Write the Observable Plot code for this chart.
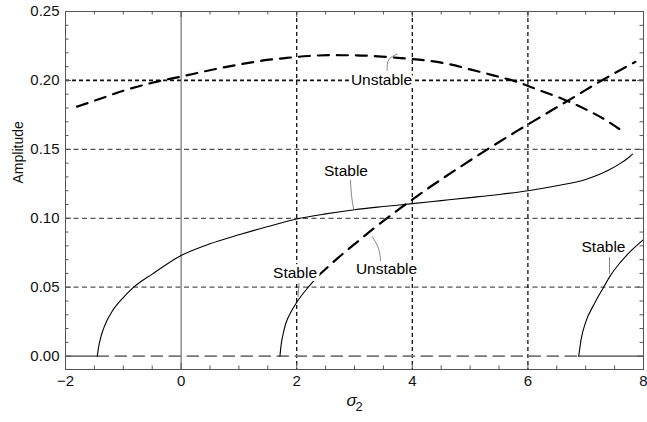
<!DOCTYPE html>
<html><head><meta charset="utf-8">
<script src="https://cdn.jsdelivr.net/npm/d3@7"></script>
<script src="https://cdn.jsdelivr.net/npm/@observablehq/plot@0.6"></script>
<style>body{margin:0;background:#fff} #chart svg{display:block}</style>
</head><body><div id="chart"></div>
<script>
// ---- data (sigma2 vs amplitude) ----
const stableMainX = [-1.45, -1.43, -1.4, -1.35, -1.28, -1.2, -1.0, -0.82, -0.5, 0, 0.5, 1.0, 1.5, 2.0, 2.5, 3.0, 3.5, 4.0, 4.5, 5.0, 5.5, 6.0, 6.5, 7.0, 7.2, 7.4, 7.6, 7.75, 7.81];
const stableMainY = [0, 0.006, 0.012, 0.019, 0.026, 0.032, 0.0425, 0.050, 0.0595, 0.073, 0.0815, 0.088, 0.094, 0.0995, 0.1032, 0.1062, 0.1085, 0.1106, 0.1128, 0.115, 0.1173, 0.120, 0.1236, 0.1282, 0.1312, 0.135, 0.1398, 0.1443, 0.1465];

const unstableUpperX = [-1.8, -1.4, -1.0, -0.5, 0, 0.6, 1.0, 1.4, 1.8, 2.2, 2.6, 3.0, 3.4, 3.8, 4.2, 4.6, 5.0, 5.4, 5.8, 6.2, 6.6, 7.0, 7.3, 7.66];
const unstableUpperY = [0.181, 0.1867, 0.1925, 0.1983, 0.2028, 0.2083, 0.2115, 0.2143, 0.2162, 0.2177, 0.2183, 0.2182, 0.2175, 0.2162, 0.2147, 0.2121, 0.208, 0.2037, 0.1991, 0.1928, 0.1866, 0.179, 0.1724, 0.1625];

const stableMidX = [1.71, 1.73, 1.77, 1.81, 1.9, 2.0, 2.2, 2.38];
const stableMidY = [0, 0.008, 0.017, 0.0235, 0.032, 0.039, 0.050, 0.0586];

const unstableRiseX = [2.38, 2.7, 3.0, 3.33, 3.8, 4.3, 4.8, 5.3, 5.8, 6.3, 6.8, 7.3, 7.86];
const unstableRiseY = [0.0586, 0.0707, 0.0812, 0.0925, 0.1075, 0.1225, 0.1365, 0.150, 0.163, 0.1755, 0.188, 0.2005, 0.2135];

const stableRightX = [6.88, 6.92, 7.0, 7.15, 7.31, 7.43, 7.6, 7.8, 8.0];
const stableRightY = [0, 0.012, 0.0247, 0.038, 0.050, 0.0586, 0.068, 0.077, 0.0845];

// trivial (zero amplitude) branch
const zeroStableLeft = [-2, -1.45];
const zeroUnstable = [-1.45, 6.88];
const zeroStableRight = [6.88, 8];

// annotation labels
const labelText = ["Unstable", "Stable", "Stable", "Unstable", "Stable"];
const labelX = [3.467, 2.853, 1.971, 3.554, 7.308];
const labelY = [0.200, 0.134, 0.060, 0.0629, 0.0789];

// leader lines (label index, x, y)
const leaderId = [0, 0, 0, 1, 1, 1, 2, 2, 3, 3, 3, 4, 4];
const leaderX = [3.566, 3.59, 3.739, 2.931, 2.948, 2.983, 2.040, 2.023, 3.450, 3.415, 3.31, 7.412, 7.412];
const leaderY = [0.2072, 0.2150, 0.2190, 0.1275, 0.1166, 0.1071, 0.0527, 0.0433, 0.0694, 0.0781, 0.0866, 0.0716, 0.060];

// axes / grid
const xMajor = [-2, 0, 2, 4, 6, 8];
const xMinor = [-1.5, -1, -0.5, 0.5, 1, 1.5, 2.5, 3, 3.5, 4.5, 5, 5.5, 6.5, 7, 7.5];
const yMajor = [0, 0.05, 0.10, 0.15, 0.20, 0.25];
const yMinor = [0.01,0.02,0.03,0.04,0.06,0.07,0.08,0.09,0.11,0.12,0.13,0.14,0.16,0.17,0.18,0.19,0.21,0.22,0.23,0.24];
const gridX = [2, 4, 6];
const gridYLight = [0.05, 0.10, 0.15];
const gridYDark = [0.20];

const pts = (xs, ys) => xs.map((x, i) => ({x, y: ys[i]}));
const labels = labelText.map((t, i) => ({text: t, x: labelX[i], y: labelY[i]}));
const leaders = leaderId.map((id, i) => ({id, x: leaderX[i], y: leaderY[i]}));

const W = 647, H = 422, mL = 65, mR = 4, mT = 11, mB = 53;
const fw = W - mL - mR, fh = H - mT - mB;
const tickMaj = 6, tickMin = 3.5;

const chart = Plot.plot({
  width: W, height: H,
  marginLeft: mL, marginRight: mR, marginTop: mT, marginBottom: mB,
  x: {domain: [-2, 8]},
  y: {domain: [-0.0097, 0.25]},
  style: {fontFamily: "'Liberation Sans', Arial, sans-serif", fontSize: "15px", color: "#111", background: "white"},
  marks: [
    Plot.ruleY(gridYLight, {stroke: "#555", strokeWidth: 1.2, strokeDasharray: "5,3.5"}),
    Plot.ruleY(gridYDark, {stroke: "#111", strokeWidth: 1.7, strokeDasharray: "4,3"}),
    Plot.ruleX(gridX, {stroke: "#111", strokeWidth: 1.3, strokeDasharray: "4,3"}),
    Plot.ruleX([0], {stroke: "#555", strokeWidth: 1}),
    Plot.line(pts(zeroUnstable, [0, 0]), {x: "x", y: "y", stroke: "#777", strokeWidth: 1.7, strokeDasharray: "11,7"}),
    Plot.line(pts(zeroStableLeft, [0, 0]), {x: "x", y: "y", stroke: "#444", strokeWidth: 1.2}),
    Plot.line(pts(zeroStableRight, [0, 0]), {x: "x", y: "y", stroke: "#444", strokeWidth: 1.2}),
    Plot.line(pts(unstableUpperX, unstableUpperY), {x: "x", y: "y", stroke: "#000", strokeWidth: 2.2, strokeDasharray: "11,8", curve: "monotone-x"}),
    Plot.line(pts(unstableRiseX, unstableRiseY), {x: "x", y: "y", stroke: "#000", strokeWidth: 2.2, strokeDasharray: "12,8", curve: "monotone-x"}),
    Plot.line(pts(stableMainX, stableMainY), {x: "x", y: "y", stroke: "#000", strokeWidth: 1.1, curve: "monotone-x"}),
    Plot.line(pts(stableMidX, stableMidY), {x: "x", y: "y", stroke: "#000", strokeWidth: 1.1, curve: "monotone-x"}),
    Plot.line(pts(stableRightX, stableRightY), {x: "x", y: "y", stroke: "#000", strokeWidth: 1.1, curve: "monotone-x"}),
    Plot.line(leaders, {x: "x", y: "y", z: "id", stroke: "#888", strokeWidth: 1, curve: "natural"}),
    Plot.text(labels, {x: "x", y: "y", text: "text", fontSize: 15.5, fill: "#000", stroke: "white", strokeWidth: 6}),
    Plot.frame({stroke: "#555", strokeWidth: 1}),
    // inward ticks on all four sides
    Plot.tickX(xMajor, {x: d => d, insetTop: fh - tickMaj, stroke: "#555"}),
    Plot.tickX(xMinor, {x: d => d, insetTop: fh - tickMin, stroke: "#555"}),
    Plot.tickX(xMajor, {x: d => d, insetBottom: fh - tickMaj, stroke: "#555"}),
    Plot.tickX(xMinor, {x: d => d, insetBottom: fh - tickMin, stroke: "#555"}),
    Plot.tickY(yMajor, {y: d => d, insetRight: fw - tickMaj, stroke: "#555"}),
    Plot.tickY(yMinor, {y: d => d, insetRight: fw - tickMin, stroke: "#555"}),
    Plot.tickY(yMajor, {y: d => d, insetLeft: fw - tickMaj, stroke: "#555"}),
    Plot.tickY(yMinor, {y: d => d, insetLeft: fw - tickMin, stroke: "#555"}),
    Plot.axisX(xMajor, {tickSize: 0, tickPadding: 6, tickFormat: d3.format("d"), label: null, fontSize: 15, fill: "#111"}),
    Plot.axisY(yMajor, {tickSize: 0, tickPadding: 6, tickFormat: d3.format(".2f"), label: null, fontSize: 15, fill: "#111"}),
    Plot.text(["Amplitude"], {frameAnchor: "left", rotate: -90, dx: -47, dy: -7, fontSize: 14, fill: "#111"}),
    Plot.text(["σ"], {frameAnchor: "bottom", dx: -3, dy: 36, fontSize: 17, fontStyle: "italic", fill: "#111"}),
    Plot.text(["2"], {frameAnchor: "bottom", dx: 4.5, dy: 41, fontSize: 13, fill: "#111"})
  ]
});
document.getElementById("chart").appendChild(chart);
</script>
</body></html>
